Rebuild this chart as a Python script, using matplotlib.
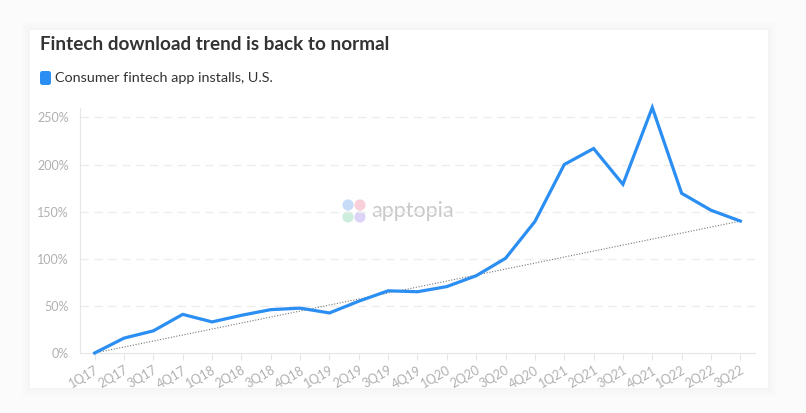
import matplotlib.pyplot as plt
from matplotlib.patches import FancyBboxPatch, Circle, Rectangle

plt.rcParams['font.family'] = ['Lato', 'DejaVu Sans']

quarters = ['1Q17', '2Q17', '3Q17', '4Q17', '1Q18', '2Q18', '3Q18', '4Q18',
            '1Q19', '2Q19', '3Q19', '4Q19', '1Q20', '2Q20', '3Q20', '4Q20',
            '1Q21', '2Q21', '3Q21', '4Q21', '1Q22', '2Q22', '3Q22']
installs = [0, 15.8, 23.5, 41, 33, 40, 46, 47.6,
            42.5, 55, 66, 65, 70.5, 82, 100.5, 139.5,
            200, 217, 179, 260.5, 169.5, 151.5, 140]
trend_ends = [0, 140]
yticks = [0, 50, 100, 150, 200, 250]

title = 'Fintech download trend is back to normal'
series_name = 'Consumer fintech app installs, U.S.'
blue = '#2b8ef2'
grey_txt = '#b0b0b0'

W, H = 806, 413
fig = plt.figure(figsize=(W / 100, H / 100), dpi=100)
fig.patch.set_facecolor('#fbfbfb')
px = fig.dpi_scale_trans  # inches, 100 px each


def box(x0, y0, x1, y1, **kw):
    # rectangle given in pixel coords (top-left origin)
    return Rectangle((x0 / 100, (H - y1) / 100), (x1 - x0) / 100,
                     (y1 - y0) / 100, transform=px, **kw)


# card with a soft shadow
for pad, a in [(8, 0.006), (5, 0.008), (2, 0.012)]:
    fig.patches.append(box(30 - pad, 30 - pad, 768 + pad, 388 + pad,
                           facecolor='black', alpha=a, edgecolor='none',
                           zorder=-3))
fig.patches.append(box(30, 30, 768, 388, facecolor='white', edgecolor='none',
                       zorder=-2))

# watermark
for (cx, cy), c in zip([(348, 205), (360, 205), (348, 217), (360, 217)],
                       ['#c6dcf7', '#f9cfda', '#cdeedd', '#dcd3f7']):
    fig.patches.append(Circle((cx / 100, (H - cy) / 100), 0.056,
                              transform=px, facecolor=c, edgecolor='none',
                              zorder=-1))
fig.text(371 / W, 1 - 211 / H, 'apptopia', fontsize=15.5, color='#c9c9c9',
         va='center', ha='left', zorder=-1)

ax = fig.add_axes([80 / W, 1 - 353 / H, 675 / W, 245 / H])
ax.set_facecolor('none')
x = list(range(len(quarters)))

ax.plot([x[0], x[-1]], trend_ends, color='#777777', lw=0.8,
        ls=(0, (1, 1.5)), zorder=2)
ax.plot(x, installs, color=blue, lw=2.3, zorder=3, solid_joinstyle='miter',
        clip_on=False)

ax.set_xlim(-0.5, len(quarters) - 0.5)
ax.set_ylim(0, 260)
ax.set_yticks(yticks)
ax.set_yticklabels(['%d%%' % v for v in yticks])
ax.set_xticks(x)
ax.set_xticklabels(quarters, rotation=30, ha='right', rotation_mode='anchor')

for v in yticks[1:]:
    ax.axhline(v, color='#ededed', lw=1, ls=(0, (6, 4)), zorder=1)

for s in ['top', 'right']:
    ax.spines[s].set_visible(False)
ax.spines['left'].set_color('#e6e6e6')
ax.spines['bottom'].set_color('#e6e6e6')
ax.tick_params(axis='y', length=0, pad=8, labelsize=9, labelcolor=grey_txt)
ax.tick_params(axis='x', length=5, color='#e6e6e6', pad=3, labelsize=9,
               labelcolor=grey_txt)

fig.text(40 / W, 1 - 44 / H, title, fontsize=13.6, fontweight='bold',
         color='#333333', va='center', ha='left')
fig.patches.append(FancyBboxPatch((40 / 100, (H - 85) / 100), 11 / 100,
                                  14 / 100,
                                  boxstyle='round,pad=0,rounding_size=0.025',
                                  transform=px, facecolor=blue,
                                  edgecolor='none'))
fig.text(55 / W, 1 - 78 / H, series_name, fontsize=10.4, color='#333333',
         va='center', ha='left')

fig.savefig('out.png', dpi=100, facecolor=fig.get_facecolor())
